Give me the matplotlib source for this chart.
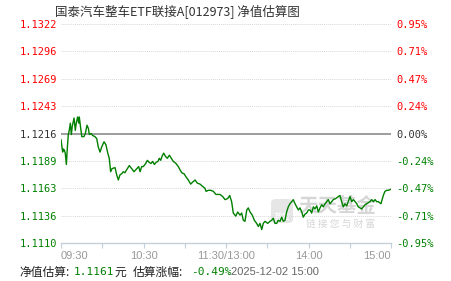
import matplotlib
matplotlib.use("Agg")
import matplotlib.pyplot as plt
from matplotlib.patches import FancyBboxPatch
import numpy as np

plt.rcParams['font.family'] = ['Noto Sans CJK SC', 'DejaVu Sans']

TITLE = "国泰汽车整车ETF联接A[012973] 净值估算图"
PREV_NAV = 1.1216
Y_MIN, Y_MAX = 1.1110, 1.1322

left_labels = ["1.1110", "1.1136", "1.1163", "1.1189", "1.1216",
               "1.1243", "1.1269", "1.1296", "1.1322"]
right_labels = ["-0.95%", "-0.71%", "-0.47%", "-0.24%", "0.00%",
                "0.24%", "0.47%", "0.71%", "0.95%"]
x_ticks = [0, 30, 60, 90, 120, 150, 180, 210, 240]
x_labels = ["09:30", "", "10:30", "", "11:30/13:00", "", "14:00", "", "15:00"]

# minutes since 09:30 (trading minutes, lunch break removed)
minutes = [0, 0.7, 1.2, 1.7, 2.4, 3.1, 3.9, 4.6, 5.3, 6.0, 6.8, 7.5, 8.2, 9.5,
           10.4, 11.1, 12.1, 12.9, 13.3, 14.3, 15.1, 16.7, 17.7, 18.9, 19.9,
           20.6, 21.8, 23.1, 24.7, 26.0, 27.1, 28.4, 29.6, 31.3, 32.7, 34.0,
           35.1, 36.1, 37.1, 39.3, 40.5, 41.7, 42.9, 44.1, 45.3, 46.5, 47.8,
           49.7, 51.4, 53.1, 55.1, 56.5, 57.5, 58.7, 59.9, 61.6, 62.8, 64.2,
           65.5, 66.7, 67.9, 69.1, 70.5, 71.5, 72.5, 73.5, 74.7, 75.9, 77.3,
           78.8, 80.2, 81.7, 83.6, 85.3, 86.5, 87.8, 89.5, 90.9, 92.6, 94.3,
           95.8, 97.5, 99.1, 101.1, 102.8, 104.7, 105.5, 107.1, 108.9, 110.8,
           112.7, 115.6, 117.6, 119.3, 121.2, 122.7, 124.1, 125.3, 127.1,
           128.5, 130.2, 131.4, 132.6, 133.8, 135.1, 136.2, 137.5, 139.1,
           140.6, 142.3, 143.5, 144.7, 146.0, 147.1, 148.4, 150.3, 152.0,
           153.2, 154.4, 155.6, 156.9, 158.0, 159.3, 160.5, 161.7, 162.9,
           164.1, 165.3, 166.5, 167.8, 168.9, 170.2, 171.4, 172.6, 173.8,
           175.1, 176.2, 177.5, 178.7, 179.9, 181.1, 182.3, 183.5, 184.7,
           186.0, 187.1, 188.4, 189.6, 190.8, 192.0, 193.2, 194.4, 195.6,
           196.9, 198.0, 199.8, 201.7, 202.9, 204.1, 205.3, 206.5, 207.8,
           208.9, 210.2, 211.4, 212.6, 213.8, 215.1, 216.2, 217.5, 218.7,
           219.9, 221.1, 222.3, 223.5, 224.7, 226.0, 227.1, 228.4, 229.6,
           230.8, 232.7, 234.4, 235.6, 236.9, 238.0, 240.0]

nav = [1.1210, 1.1203, 1.1198, 1.1201, 1.1200, 1.1197, 1.1186, 1.1202, 1.1215,
       1.1219, 1.1226, 1.1215, 1.1223, 1.1231, 1.1219, 1.1226, 1.1232, 1.1226,
       1.1232, 1.1221, 1.1213, 1.1213, 1.1216, 1.1224, 1.1221, 1.1215, 1.1216,
       1.1214, 1.1213, 1.1211, 1.1203, 1.1198, 1.1203, 1.1208, 1.1205, 1.1197,
       1.1192, 1.1179, 1.1182, 1.1183, 1.1176, 1.1171, 1.1176, 1.1177, 1.1179,
       1.1178, 1.1181, 1.1185, 1.1182, 1.1179, 1.1182, 1.1184, 1.1179, 1.1184,
       1.1184, 1.1187, 1.1190, 1.1188, 1.1187, 1.1189, 1.1186, 1.1188, 1.1189,
       1.1192, 1.1190, 1.1194, 1.1197, 1.1194, 1.1192, 1.1195, 1.1192, 1.1189,
       1.1187, 1.1184, 1.1181, 1.1178, 1.1177, 1.1174, 1.1171, 1.1167, 1.1169,
       1.1171, 1.1168, 1.1167, 1.1165, 1.1163, 1.1160, 1.1161, 1.1161, 1.1160,
       1.1157, 1.1157, 1.1155, 1.1152, 1.1153, 1.1156, 1.1150, 1.1139, 1.1136,
       1.1140, 1.1137, 1.1139, 1.1132, 1.1131, 1.1142, 1.1144, 1.1140, 1.1137,
       1.1132, 1.1129, 1.1126, 1.1129, 1.1123, 1.1129, 1.1131, 1.1129, 1.1131,
       1.1132, 1.1134, 1.1129, 1.1129, 1.1132, 1.1131, 1.1135, 1.1131, 1.1132,
       1.1140, 1.1145, 1.1148, 1.1150, 1.1152, 1.1148, 1.1145, 1.1142, 1.1144,
       1.1140, 1.1135, 1.1138, 1.1139, 1.1142, 1.1142, 1.1139, 1.1145, 1.1143,
       1.1146, 1.1140, 1.1144, 1.1147, 1.1145, 1.1148, 1.1150, 1.1152, 1.1148,
       1.1150, 1.1152, 1.1153, 1.1155, 1.1156, 1.1150, 1.1145, 1.1148, 1.1146,
       1.1150, 1.1155, 1.1150, 1.1152, 1.1150, 1.1148, 1.1145, 1.1144, 1.1143,
       1.1145, 1.1147, 1.1148, 1.1149, 1.1150, 1.1152, 1.1150, 1.1152, 1.1150,
       1.1150, 1.1148, 1.1156, 1.1160, 1.1161, 1.1161, 1.1162]

GREEN = "#008000"
RED = "#ff0000"

fig = plt.figure(figsize=(4.51, 2.81), dpi=100)
ax = fig.add_axes([61 / 451, 1 - 243 / 281, 330 / 451, 219 / 281])
ax.patch.set_visible(False)

ax.plot(minutes, nav, color=GREEN, linewidth=1.0, zorder=3)

ax.set_xlim(0, 240)
ax.set_ylim(Y_MIN, Y_MAX)

y_ticks = np.linspace(Y_MIN, Y_MAX, 9)
for i, yv in enumerate(y_ticks):
    if i == 4:
        ax.axhline(PREV_NAV, color="#8c8c8c", linewidth=1.2, zorder=2)
    elif i > 0:
        ax.axhline(yv, color="#d8d8d8", linewidth=0.7,
                   linestyle=(0, (1, 1)), zorder=1)

ax.set_yticks(y_ticks)
ax.set_yticklabels(left_labels, family="DejaVu Sans Mono", fontsize=7.5)
ax.tick_params(axis="y", length=0, pad=3)
for i, lab in enumerate(ax.get_yticklabels()):
    lab.set_color(GREEN if i < 4 else ("#333333" if i == 4 else RED))

ax2 = ax.twinx()
ax2.set_ylim(Y_MIN, Y_MAX)
ax2.set_yticks(y_ticks)
ax2.set_yticklabels(right_labels, family="DejaVu Sans Mono", fontsize=7.5)
ax2.tick_params(axis="y", length=0, pad=4)
for i, lab in enumerate(ax2.get_yticklabels()):
    lab.set_color(GREEN if i < 4 else ("#333333" if i == 4 else RED))

ax.set_xticks(x_ticks)
ax.set_xticklabels(x_labels, family="Liberation Sans", fontsize=8, color="#999999")
ax.tick_params(axis="x", length=3.5, width=0.8, color="#c3cfdb", pad=2)
xl = ax.get_xticklabels()
xl[0].set_horizontalalignment("left")
xl[-1].set_horizontalalignment("right")

for a in (ax, ax2):
    for s in ("top", "left", "right"):
        a.spines[s].set_visible(False)
ax2.spines["bottom"].set_visible(False)
ax.spines["bottom"].set_color("#c3cfdb")
ax.spines["bottom"].set_linewidth(1.0)

# watermark (under the line)
logo = FancyBboxPatch((271 / 451, 1 - 223 / 281), 22 / 451, 24 / 281,
                      boxstyle="round,pad=0,rounding_size=0.012",
                      transform=fig.transFigure, facecolor="#dcdcdc",
                      edgecolor="none", alpha=0.7, zorder=0.5)
ax.add_artist(logo)
ax.text(282 / 451, 1 - 217 / 281, "基金", transform=fig.transFigure,
        fontsize=6, color="white", ha="center", va="center", zorder=0.6)
ax.text(298 / 451, 1 - 207 / 281, "天天基金", transform=fig.transFigure,
        fontsize=14, color="#d6d6d6", fontweight="bold", va="center",
        ha="left", zorder=0.5)
ax.text(306 / 451, 1 - 224 / 281, "链 接 您 与 财 富", transform=fig.transFigure,
        fontsize=7, color="#d6d6d6", va="center", ha="left", zorder=0.5)

fig.text(177 / 451, 1 - 12 / 281, TITLE, fontsize=9, color="#333333",
         ha="center", va="center")

ty = 1 - 272 / 281
fig.text(19 / 451, ty, "净值估算:", fontsize=8.5, color="#222222", va="center")
fig.text(74 / 451, ty, "1.1161", fontsize=8, color=GREEN, va="center",
         family="DejaVu Sans Mono")
fig.text(114 / 451, ty, "元", fontsize=8.5, color="#222222", va="center")
fig.text(133 / 451, ty, "估算涨幅:", fontsize=8.5, color="#222222", va="center")
fig.text(191 / 451, ty, "-0.49%", fontsize=8, color=GREEN, va="center",
         family="DejaVu Sans Mono")
fig.text(231 / 451, ty, "2025-12-02 15:00", fontsize=8, color="#666666",
         va="center", family="Liberation Sans")

fig.savefig("out.png", dpi=100)
